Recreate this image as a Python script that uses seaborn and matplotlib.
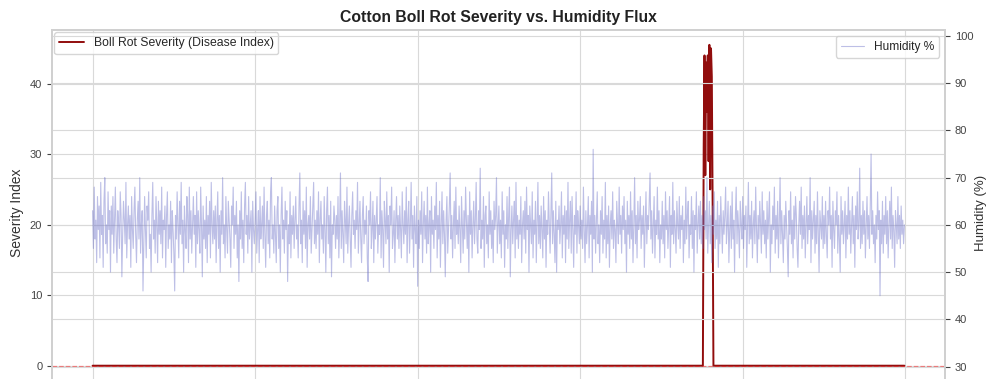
import numpy as np
import pandas as pd
import matplotlib
matplotlib.use("Agg")
import matplotlib.pyplot as plt
import seaborn as sns

# ---------------- data ----------------
title = "Cotton Boll Rot Severity vs. Humidity Flux"
severity_label = "Boll Rot Severity (Disease Index)"
humidity_label = "Humidity %"

humidity = [
    63, 55, 68, 57, 61, 52, 66, 59, 64, 53, 69, 58, 62, 51, 65, 70, 56, 60, 54, 67, 59, 63, 50, 64, 58,
    66, 54, 61, 68, 57, 52, 63, 60, 55, 67, 62, 49, 58, 65, 61, 56, 69, 53, 60, 64, 57, 62, 51, 66, 59,
    55, 63, 68, 58, 52, 61, 65, 57, 70, 54, 60, 63, 46, 56, 66, 59, 53, 64, 61, 67, 55, 58, 50, 62, 69,
    57, 61, 54, 66, 60, 52, 65, 58, 63, 56, 68, 53, 61, 59, 64, 51, 62, 67, 55, 60, 57, 65, 52, 63, 59,
    54, 46, 62, 57, 67, 60, 53, 65, 58, 69, 56, 61, 50, 64, 59, 55, 66, 62, 52, 68, 57, 63, 54, 60, 66,
    58, 62, 51, 67, 56, 63, 59, 54, 68, 60, 49, 64, 57, 61, 55, 66, 52, 62, 58, 65, 53, 69, 60, 56, 63,
    57, 64, 52, 61, 67, 55, 62, 50, 63, 58, 70, 56, 60, 53, 66, 59, 54, 65, 61, 57, 51, 64, 60, 68, 55,
    62, 58, 65, 53, 60, 48, 63, 57, 67, 55, 61, 52, 64, 69, 58, 62, 54, 66, 57, 60, 63, 50, 65, 59, 56,
    61, 67, 54, 59, 63, 52, 66, 57, 60, 64, 55, 68, 58, 51, 62, 65, 56, 61, 53, 67, 70, 57, 60, 54, 64,
    58, 52, 63, 66, 55, 60, 50, 62, 68, 57, 61, 54, 65, 59, 63, 48, 60, 56, 67, 53, 62, 58, 64, 55, 61,
    66, 57, 60, 53, 64, 71, 56, 61, 52, 65, 58, 63, 55, 68, 51, 60, 62, 57, 66, 54, 59, 64, 69, 56, 61,
    55, 63, 58, 67, 52, 61, 65, 57, 60, 54, 66, 59, 50, 63, 68, 56, 62, 53, 65, 49, 60, 58, 64, 61, 55,
    62, 57, 66, 53, 60, 71, 55, 63, 58, 52, 65, 61, 56, 68, 54, 60, 64, 57, 51, 62, 67, 58, 61, 55, 63,
    59, 69, 54, 60, 65, 57, 52, 62, 66, 56, 61, 58, 64, 53, 48, 63, 60, 67, 55, 59, 65, 52, 62, 57, 61,
    66, 54, 60, 58, 70, 53, 63, 59, 51, 65, 61, 56, 67, 57, 62, 50, 64, 60, 68, 55, 58, 63, 52, 61, 66,
    57, 62, 55, 64, 59, 53, 67, 60, 56, 63, 58, 68, 52, 61, 65, 54, 60, 69, 57, 62, 51, 64, 59, 56, 66,
    47, 61, 55, 63, 58, 67, 52, 60, 65, 57, 62, 54, 68, 56, 60, 63, 50, 66, 58, 61, 55, 64, 59, 69, 53,
    62, 57, 65, 51, 60, 67, 56, 63, 58, 49, 61, 66, 54, 59, 64, 71, 57, 62, 53, 60, 65, 55, 68, 58, 61,
    56, 64, 59, 52, 66, 60, 54, 63, 57, 68, 61, 55, 62, 50, 67, 58, 63, 53, 60, 65, 56, 61, 69, 57, 54,
    63, 59, 72, 55, 61, 57, 66, 51, 62, 64, 56, 60, 53, 67, 58, 63, 55, 61, 52, 65, 59, 62, 70, 54, 60,
    64, 56, 61, 53, 67, 58, 63, 51, 60, 57, 66, 55, 62, 68, 49, 59, 64, 56, 61, 65, 53, 69, 57, 62, 55,
    61, 58, 66, 52, 60, 63, 57, 65, 54, 68, 59, 62, 50, 64, 60, 56, 67, 53, 61, 58, 65, 52, 60, 69, 56,
    62, 55, 64, 59, 53, 66, 57, 63, 51, 61, 58, 67, 60, 54, 62, 71, 56, 63, 58, 52, 65, 50, 61, 59, 64,
    56, 60, 67, 53, 62, 58, 64, 52, 63, 57, 69, 55, 61, 65, 54, 66, 59, 51, 62, 58, 67, 54, 63, 60, 56,
    64, 57, 61, 55, 68, 59, 52, 63, 56, 60, 66, 53, 62, 58, 65, 50, 76, 57, 62, 54, 61, 67, 56, 60, 52,
    63, 58, 66, 54, 61, 57, 69, 53, 62, 56, 64, 51, 60, 63, 57, 67, 55, 61, 59, 52, 65, 60, 56, 68, 58,
    62, 54, 64, 59, 66, 56, 61, 50, 65, 58, 62, 55, 67, 57, 63, 52, 60, 70, 56, 62, 53, 65, 59, 61, 66,
    55, 62, 58, 64, 51, 60, 67, 56, 62, 59, 65, 71, 57, 63, 54, 60, 66, 53, 61, 58, 68, 57, 63, 52, 60,
    57, 65, 56, 62, 53, 67, 59, 63, 55, 60, 66, 51, 62, 58, 69, 56, 63, 59, 54, 65, 60, 57, 66, 55, 62,
    59, 64, 52, 61, 56, 68, 57, 62, 65, 53, 60, 58, 66, 55, 63, 50, 62, 59, 67, 54, 60, 64, 57, 65, 56,
    62, 55, 66, 59, 63, 57, 70, 54, 60, 65, 56, 62, 52, 64, 58, 67, 55, 61, 57, 65, 51, 62, 56, 66, 60,
    54, 63, 58, 62, 68, 56, 60, 65, 52, 59, 64, 55, 67, 57, 61, 50, 62, 68, 56, 63, 59, 53, 65, 60, 57,
    66, 55, 62, 59, 64, 51, 60, 69, 56, 62, 57, 65, 53, 60, 63, 56, 68, 59, 52, 62, 57, 65, 60, 54, 67,
    58, 63, 56, 61, 53, 65, 57, 62, 67, 50, 60, 56, 64, 59, 68, 54, 62, 57, 65, 53, 60, 70, 56, 63, 58,
    52, 62, 57, 65, 60, 55, 49, 63, 58, 67, 56, 61, 53, 64, 57, 66, 62, 55, 51, 60, 65, 58, 68, 55, 62,
    57, 64, 53, 60, 66, 56, 62, 59, 70, 52, 63, 57, 61, 65, 54, 62, 56, 67, 58, 50, 63, 60, 57, 66, 55,
    62, 56, 65, 58, 53, 63, 60, 68, 57, 62, 51, 65, 59, 55, 63, 60, 67, 54, 62, 57, 50, 66, 58, 63, 56,
    60, 65, 53, 62, 57, 68, 58, 63, 54, 60, 66, 56, 62, 51, 64, 59, 67, 57, 60, 72, 55, 62, 56, 65, 58,
    63, 53, 60, 66, 57, 62, 55, 64, 75, 58, 63, 56, 60, 52, 62, 57, 67, 59, 63, 45, 61, 56, 65, 54, 62,
    58, 66, 56, 63, 53, 60, 65, 57, 68, 55, 62, 59, 51, 63, 60, 56, 66, 57, 62, 55, 64, 58, 61, 56, 60,
]

# severity is zero everywhere except an outbreak window
outbreak_start = 752
outbreak_values = [31, 44, 27, 43, 36, 44, 29, 45.5, 25, 45, 41, 23]

days = np.arange(len(humidity))
severity = np.zeros(len(humidity))
severity[outbreak_start:outbreak_start + len(outbreak_values)] = outbreak_values

df = pd.DataFrame({"day": days, "humidity": humidity, "severity": severity})

# ---------------- style ----------------
sns.set_theme(style="whitegrid")
plt.rcParams["font.family"] = ["Liberation Sans", "DejaVu Sans"]
plt.rcParams["grid.color"] = "#d9d9d9"
plt.rcParams["grid.linewidth"] = 0.8
plt.rcParams["axes.edgecolor"] = "#d0d0d0"

fig = plt.figure(figsize=(9.89, 3.79), dpi=100)
# axes extends slightly below the canvas (the picture is cropped at the bottom)
ax = fig.add_axes([0.0526, -0.0449, 0.9029, 0.9657])

sns.lineplot(data=df, x="day", y="severity", ax=ax, color="#8b0000",
             linewidth=1.4, alpha=0.95, label=severity_label, estimator=None)
ax.axhline(0, color="red", linestyle="--", linewidth=0.9, alpha=0.45)
ax.set_ylim(-4.3, 47.6)
ax.set_ylabel("Severity Index", fontsize=10, color="#333333")
ax.set_xlabel("")
ax.set_xticks([0, 200, 400, 600, 800, 1000])
ax.tick_params(axis="x", labelbottom=False, bottom=False)
ax.tick_params(axis="y", left=True, length=3.5, width=0.8, labelsize=8,
               colors="#444444")

ax2 = ax.twinx()
sns.lineplot(data=df, x="day", y="humidity", ax=ax2, color="#6d72c9",
             linewidth=0.8, alpha=0.45, label=humidity_label, estimator=None)
ax2.set_ylim(23.75, 101.27)
ax2.set_ylabel("Humidity (%)", fontsize=9.5, color="#333333", labelpad=1)
ax2.set_xlabel("")
ax2.tick_params(axis="y", right=True, length=3.5, width=0.8, labelsize=8,
                colors="#444444")
ax2.grid(True)

ax.legend(loc="upper left", fontsize=8.8, borderaxespad=0.2, frameon=True)
ax2.legend(loc="upper right", fontsize=8.6, frameon=True)

ax.set_title(title, fontsize=11.3, fontweight="bold", color="#222222")

fig.savefig("out.png", dpi=100)
